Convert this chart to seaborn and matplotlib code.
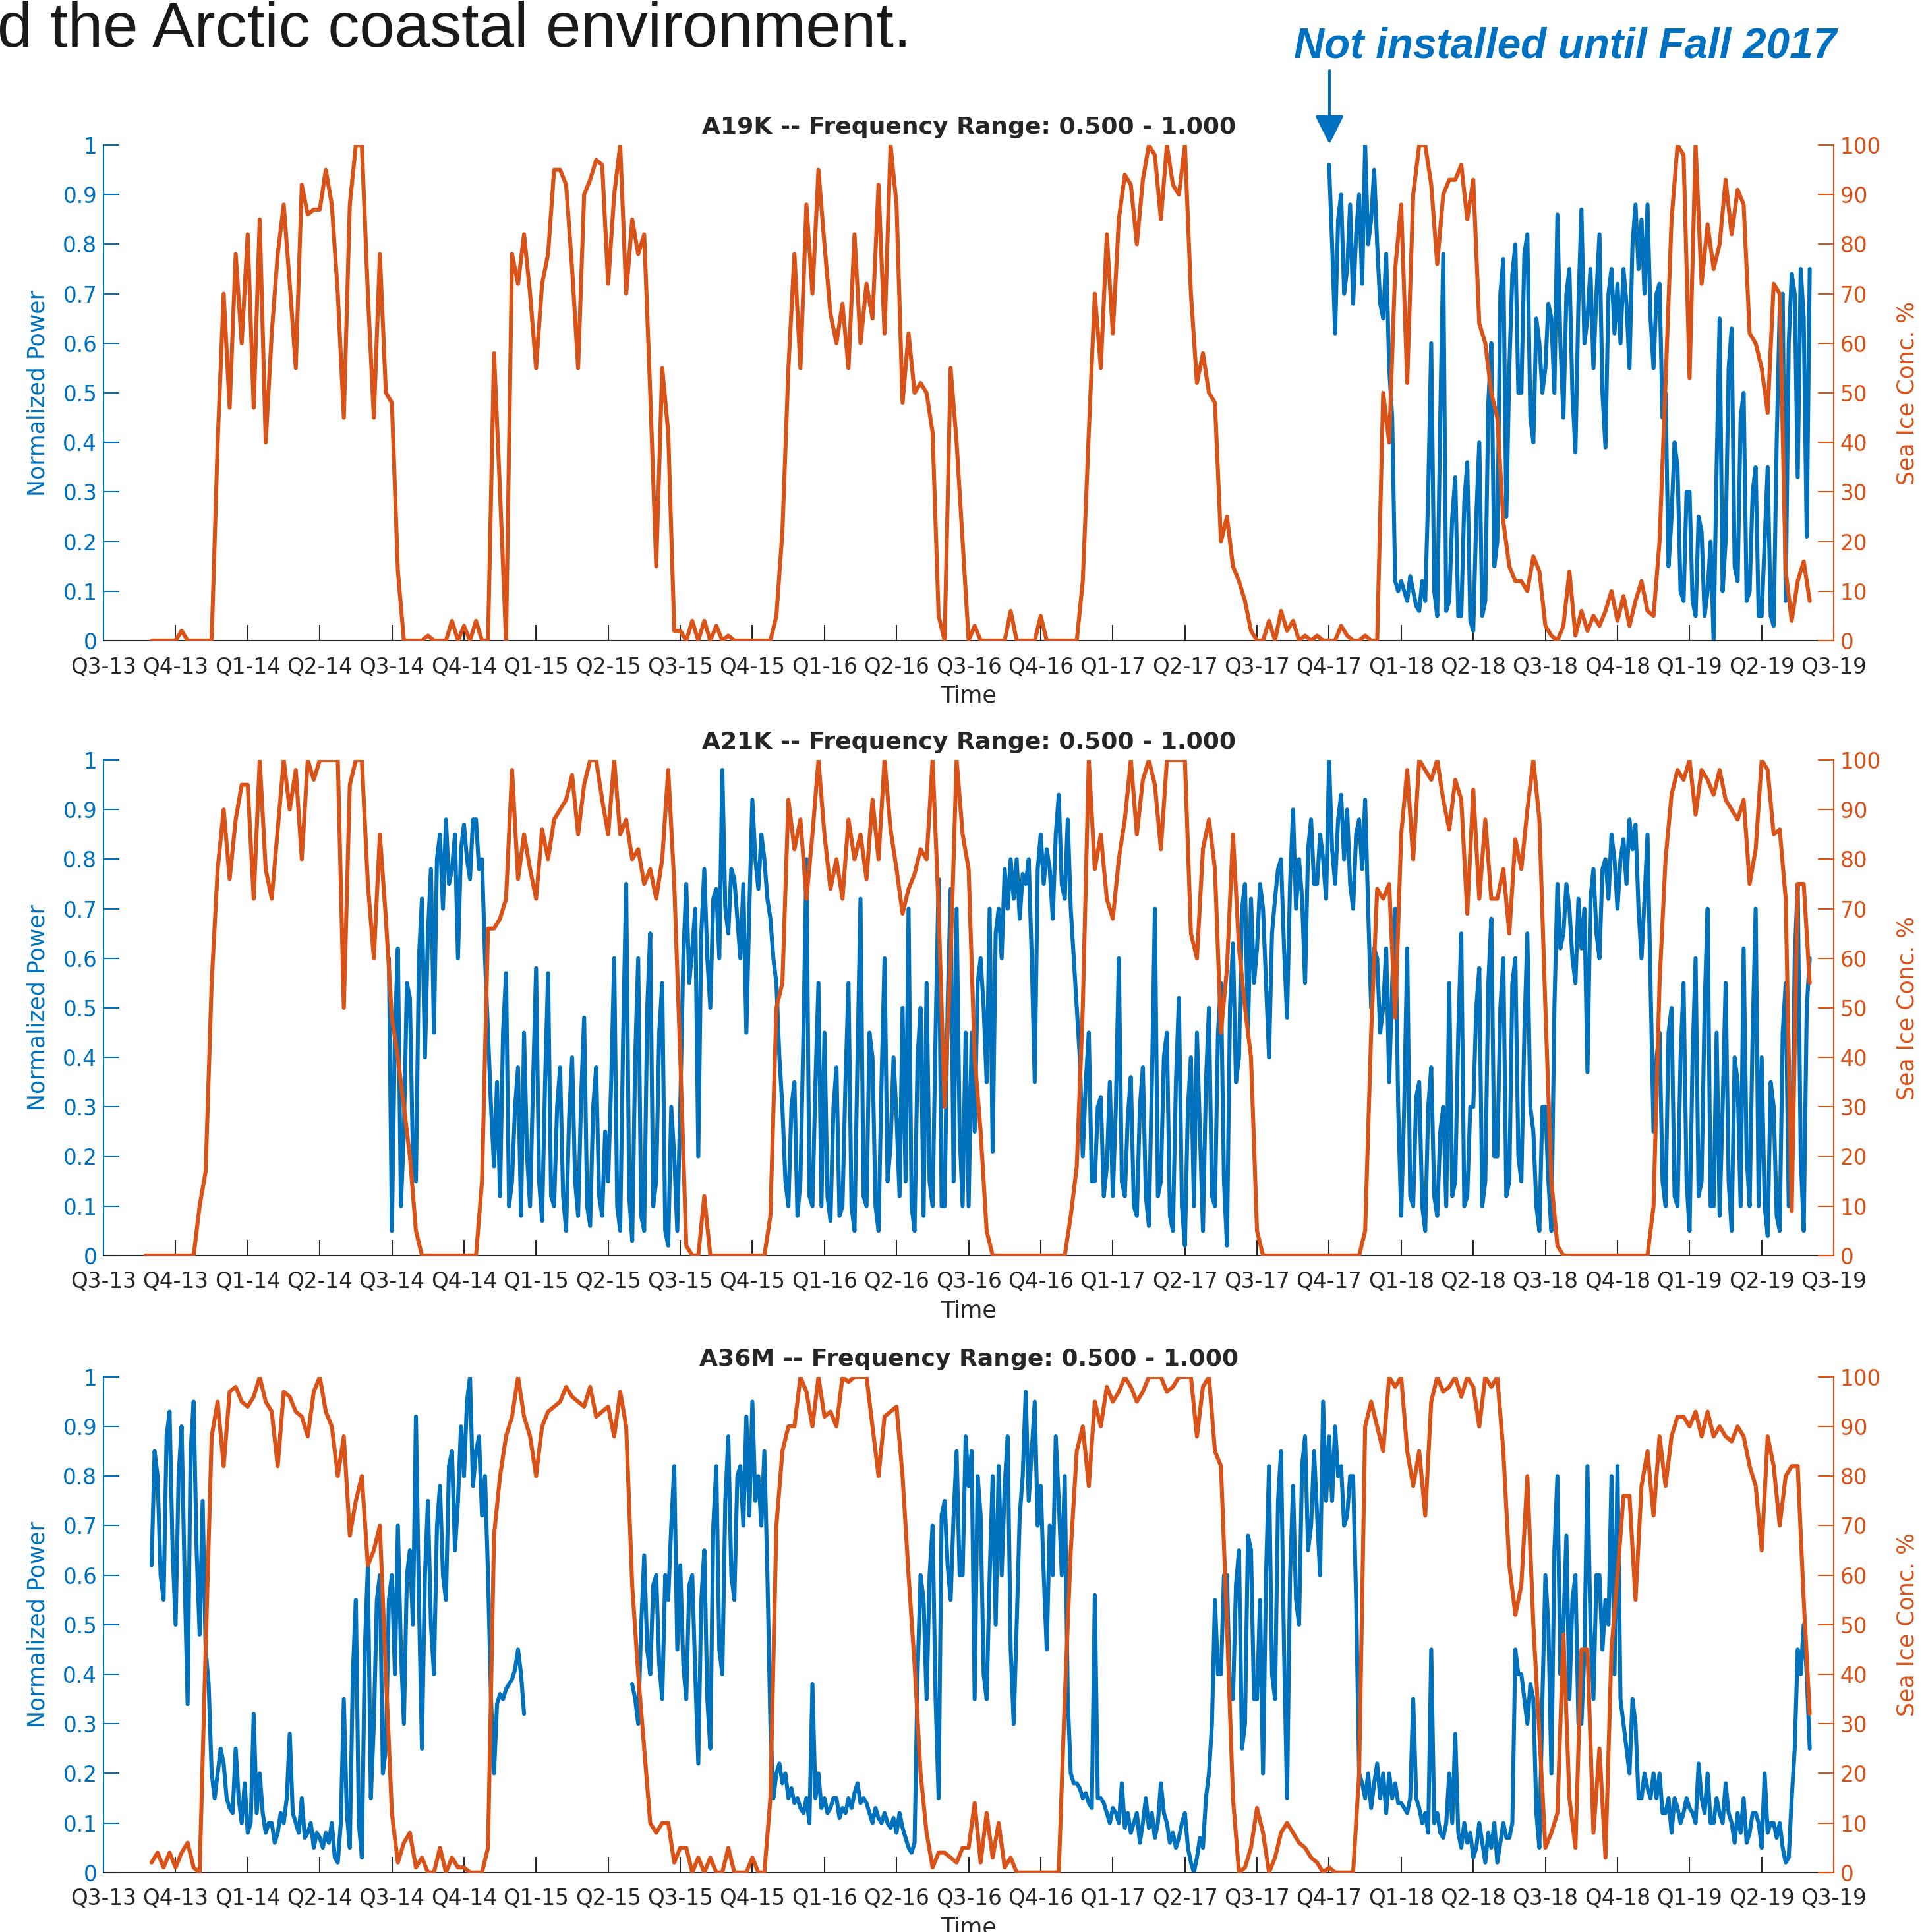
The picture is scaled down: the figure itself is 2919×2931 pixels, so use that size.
import numpy as np
import pandas as pd
import matplotlib
matplotlib.use('Agg')
import matplotlib.pyplot as plt
from matplotlib.patches import FancyArrowPatch
import seaborn as sns

nan = np.nan

quarter_labels = ['Q3-13', 'Q4-13', 'Q1-14', 'Q2-14', 'Q3-14', 'Q4-14', 'Q1-15', 'Q2-15',
                  'Q3-15', 'Q4-15', 'Q1-16', 'Q2-16', 'Q3-16', 'Q4-16', 'Q1-17', 'Q2-17',
                  'Q3-17', 'Q4-17', 'Q1-18', 'Q2-18', 'Q3-18', 'Q4-18', 'Q1-19', 'Q2-19', 'Q3-19']
power_ticks = [0, 0.1, 0.2, 0.3, 0.4, 0.5, 0.6, 0.7, 0.8, 0.9, 1]
ice_ticks = [0, 10, 20, 30, 40, 50, 60, 70, 80, 90, 100]
stations = ['A19K', 'A21K', 'A36M']
freq_range = '0.500 - 1.000'

# sea ice %, 12 samples per quarter, one row per quarter (Q3-13 .. Q2-19)
a19k_ice = [
    nan, nan, nan, nan, nan, nan, nan, nan, 0, 0, 0, 0,
    0, 2, 0, 0, 0, 0, 0, 40, 70, 47, 78, 60,
    82, 47, 85, 40, 62, 78, 88, 72, 55, 92, 86, 87,
    87, 95, 88, 70, 45, 88, 100, 100, 70, 45, 78, 50,
    48, 14, 0, 0, 0, 0, 1, 0, 0, 0, 4, 0,
    3, 0, 4, 0, 0, 58, 30, 0, 78, 72, 82, 70,
    55, 72, 78, 95, 95, 92, 75, 55, 90, 93, 97, 96,
    72, 90, 100, 70, 85, 78, 82, 50, 15, 55, 42, 2,
    2, 0, 4, 0, 4, 0, 3, 0, 1, 0, 0, 0,
    0, 0, 0, 0, 5, 22, 55, 78, 55, 88, 70, 95,
    80, 66, 60, 68, 55, 82, 60, 72, 65, 92, 62, 100,
    88, 48, 62, 50, 52, 50, 42, 5, 0, 55, 40, 20,
    0, 3, 0, 0, 0, 0, 0, 6, 0, 0, 0, 0,
    5, 0, 0, 0, 0, 0, 0, 12, 42, 70, 55, 82,
    62, 85, 94, 92, 80, 93, 100, 98, 85, 100, 92, 90,
    100, 70, 52, 58, 50, 48, 20, 25, 15, 12, 8, 2,
    0, 0, 4, 0, 6, 2, 4, 0, 1, 0, 1, 0,
    0, 0, 3, 1, 0, 0, 1, 0, 0, 50, 40, 75,
    88, 52, 90, 100, 100, 92, 76, 90, 93, 93, 96, 85,
    93, 64, 60, 50, 45, 24, 15, 12, 12, 10, 17, 14,
    3, 1, 0, 3, 14, 1, 6, 2, 5, 3, 6, 10,
    4, 9, 3, 8, 12, 6, 5, 20, 52, 85, 100, 98,
    53, 100, 72, 84, 75, 80, 93, 82, 91, 88, 62, 60,
    55, 46, 72, 70, 14, 4, 12, 16, 8, nan, nan, nan,
]
a21k_ice = [
    nan, nan, nan, nan, nan, nan, nan, 0, 0, 0, 0, 0,
    0, 0, 0, 0, 10, 17, 55, 78, 90, 76, 88, 95,
    95, 72, 100, 78, 72, 86, 100, 90, 98, 80, 100, 96,
    100, 100, 100, 100, 50, 95, 100, 100, 75, 60, 85, 68,
    48, 40, 30, 20, 5, 0, 0, 0, 0, 0, 0, 0,
    0, 0, 0, 15, 66, 66, 68, 72, 98, 76, 85, 78,
    72, 86, 80, 88, 90, 92, 97, 85, 95, 100, 100, 92,
    85, 100, 85, 88, 80, 82, 75, 78, 72, 80, 98, 75,
    40, 2, 0, 0, 12, 0, 0, 0, 0, 0, 0, 0,
    0, 0, 0, 8, 50, 55, 92, 82, 88, 72, 85, 100,
    85, 74, 80, 72, 88, 80, 85, 76, 92, 80, 100, 86,
    78, 69, 74, 77, 82, 80, 100, 70, 30, 60, 100, 85,
    78, 40, 25, 5, 0, 0, 0, 0, 0, 0, 0, 0,
    0, 0, 0, 0, 0, 8, 18, 50, 100, 78, 85, 72,
    68, 80, 88, 100, 85, 96, 100, 95, 82, 100, 100, 100,
    100, 65, 60, 82, 88, 78, 45, 58, 85, 62, 50, 40,
    5, 0, 0, 0, 0, 0, 0, 0, 0, 0, 0, 0,
    0, 0, 0, 0, 0, 0, 5, 45, 74, 72, 75, 48,
    85, 98, 80, 100, 98, 96, 100, 92, 86, 96, 92, 69,
    94, 72, 88, 72, 72, 78, 65, 84, 78, 90, 100, 88,
    50, 15, 2, 0, 0, 0, 0, 0, 0, 0, 0, 0,
    0, 0, 0, 0, 0, 0, 10, 55, 80, 93, 98, 96,
    100, 89, 98, 96, 93, 98, 92, 90, 88, 92, 75, 82,
    100, 98, 85, 86, 72, 9, 75, 75, 55, nan, nan, nan,
]
a36m_ice = [
    nan, nan, nan, nan, nan, nan, nan, nan, 2, 4, 1, 4,
    1, 4, 6, 1, 0, 45, 88, 95, 82, 97, 98, 95,
    94, 96, 100, 95, 93, 82, 97, 96, 93, 92, 88, 97,
    100, 93, 90, 80, 88, 68, 75, 80, 62, 65, 70, 40,
    12, 2, 6, 8, 1, 3, 0, 0, 5, 0, 3, 1,
    1, 0, 0, 0, 5, 68, 80, 88, 92, 100, 92, 88,
    80, 90, 93, 94, 95, 98, 96, 95, 94, 98, 92, 93,
    94, 88, 97, 90, 58, 40, 25, 10, 8, 10, 10, 2,
    5, 5, 0, 3, 0, 3, 0, 0, 5, 0, 0, 0,
    3, 0, 0, 15, 70, 85, 90, 90, 100, 97, 90, 100,
    92, 93, 90, 100, 99, 100, 100, 100, 90, 80, 92, 93,
    94, 80, 60, 42, 20, 8, 1, 4, 4, 3, 2, 5,
    5, 14, 2, 12, 3, 10, 1, 3, 0, 0, 0, 0,
    0, 0, 0, 0, 35, 65, 85, 90, 78, 95, 90, 98,
    95, 97, 100, 98, 95, 97, 100, 100, 100, 97, 98, 100,
    100, 100, 88, 98, 100, 85, 82, 50, 15, 0, 1, 5,
    13, 8, 0, 3, 8, 10, 8, 6, 5, 3, 2, 0,
    1, 0, 0, 0, 0, 20, 90, 95, 90, 85, 100, 98,
    100, 85, 78, 85, 72, 95, 100, 97, 98, 100, 96, 100,
    98, 90, 100, 98, 100, 85, 62, 52, 58, 80, 50, 28,
    5, 8, 12, 48, 15, 5, 45, 45, 8, 25, 3, 45,
    60, 76, 76, 55, 78, 85, 72, 88, 78, 88, 92, 92,
    90, 93, 88, 93, 88, 90, 88, 87, 90, 88, 82, 78,
    65, 88, 82, 70, 80, 82, 82, 55, 32, nan, nan, nan,
]

# normalized power, 24 samples per quarter, one row per quarter
a19k_power = [nan] * 24 * 17 + [
    0.96, 0.80, 0.62, 0.85, 0.90, 0.70, 0.75, 0.88, 0.68, 0.82, 0.90, 0.72, 1.00, 0.80, 0.85, 0.95, 0.80, 0.68, 0.65, 0.78, 0.55, 0.45, 0.12, 0.10,
    0.12, 0.10, 0.08, 0.13, 0.10, 0.07, 0.06, 0.12, 0.08, 0.30, 0.60, 0.10, 0.05, 0.45, 0.78, 0.06, 0.08, 0.25, 0.33, 0.05, 0.05, 0.28, 0.36, 0.04,
    0.02, 0.25, 0.40, 0.05, 0.08, 0.48, 0.60, 0.15, 0.20, 0.70, 0.77, 0.25, 0.55, 0.74, 0.80, 0.50, 0.50, 0.78, 0.82, 0.45, 0.40, 0.65, 0.60, 0.50,
    0.55, 0.68, 0.65, 0.50, 0.86, 0.60, 0.45, 0.70, 0.75, 0.50, 0.38, 0.68, 0.87, 0.60, 0.65, 0.75, 0.55, 0.70, 0.82, 0.50, 0.39, 0.70, 0.75, 0.62,
    0.72, 0.60, 0.75, 0.68, 0.55, 0.80, 0.88, 0.75, 0.85, 0.70, 0.88, 0.65, 0.55, 0.70, 0.72, 0.45, 0.50, 0.15, 0.25, 0.40, 0.35, 0.10, 0.08, 0.30,
    0.30, 0.08, 0.05, 0.25, 0.22, 0.05, 0.10, 0.20, 0.00, 0.35, 0.65, 0.10, 0.20, 0.55, 0.63, 0.15, 0.12, 0.45, 0.50, 0.08, 0.10, 0.30, 0.35, 0.05,
    0.05, 0.20, 0.35, 0.05, 0.03, 0.40, 0.67, 0.70, 0.08, 0.60, 0.74, 0.70, 0.33, 0.75, 0.65, 0.21, 0.75, nan, nan, nan, nan, nan, nan, nan,
]
a21k_power = [nan] * (24 * 3 + 23) + [
    0.60,
    0.05, 0.45, 0.62, 0.10, 0.25, 0.55, 0.52, 0.20, 0.15, 0.60, 0.72, 0.40, 0.65, 0.78, 0.45, 0.80, 0.85, 0.70, 0.88, 0.75, 0.78, 0.85, 0.60, 0.82,
    0.87, 0.80, 0.76, 0.88, 0.88, 0.78, 0.80, 0.60, 0.45, 0.30, 0.18, 0.35, 0.12, 0.45, 0.57, 0.10, 0.15, 0.30, 0.38, 0.08, 0.45, 0.20, 0.10, 0.35,
    0.58, 0.15, 0.07, 0.35, 0.57, 0.12, 0.10, 0.30, 0.38, 0.12, 0.05, 0.28, 0.40, 0.15, 0.08, 0.32, 0.48, 0.10, 0.06, 0.30, 0.38, 0.12, 0.08, 0.25,
    0.15, 0.35, 0.60, 0.10, 0.05, 0.45, 0.75, 0.12, 0.03, 0.40, 0.60, 0.08, 0.05, 0.50, 0.65, 0.10, 0.15, 0.45, 0.55, 0.05, 0.02, 0.30, 0.20, 0.05,
    0.30, 0.60, 0.75, 0.55, 0.62, 0.70, 0.20, 0.65, 0.78, 0.60, 0.50, 0.72, 0.74, 0.60, 0.98, 0.70, 0.65, 0.78, 0.76, 0.68, 0.60, 0.75, 0.45, 0.70,
    0.92, 0.80, 0.74, 0.85, 0.80, 0.72, 0.68, 0.60, 0.55, 0.40, 0.30, 0.15, 0.10, 0.30, 0.35, 0.08, 0.15, 0.45, 0.80, 0.12, 0.10, 0.35, 0.55, 0.10,
    0.45, 0.12, 0.07, 0.30, 0.38, 0.08, 0.10, 0.35, 0.55, 0.10, 0.05, 0.40, 0.72, 0.12, 0.10, 0.45, 0.40, 0.10, 0.05, 0.35, 0.60, 0.15, 0.22, 0.40,
    0.28, 0.12, 0.50, 0.15, 0.70, 0.10, 0.05, 0.40, 0.50, 0.08, 0.55, 0.15, 0.10, 0.45, 0.76, 0.10, 0.10, 0.50, 0.74, 0.15, 0.70, 0.25, 0.10, 0.45,
    0.10, 0.45, 0.25, 0.55, 0.60, 0.50, 0.35, 0.70, 0.21, 0.65, 0.70, 0.60, 0.78, 0.70, 0.80, 0.72, 0.80, 0.68, 0.77, 0.75, 0.80, 0.60, 0.35, 0.78,
    0.85, 0.75, 0.82, 0.78, 0.68, 0.85, 0.93, 0.75, 0.72, 0.88, 0.70, 0.60, 0.50, 0.40, 0.20, 0.35, 0.45, 0.15, 0.15, 0.30, 0.32, 0.12, 0.18, 0.35,
    0.12, 0.30, 0.60, 0.15, 0.12, 0.28, 0.36, 0.10, 0.08, 0.30, 0.38, 0.12, 0.06, 0.35, 0.70, 0.12, 0.15, 0.40, 0.45, 0.08, 0.05, 0.35, 0.52, 0.10,
    0.02, 0.30, 0.40, 0.10, 0.45, 0.25, 0.05, 0.35, 0.50, 0.12, 0.10, 0.45, 0.55, 0.15, 0.02, 0.50, 0.63, 0.35, 0.40, 0.70, 0.75, 0.45, 0.72, 0.55,
    0.62, 0.75, 0.70, 0.55, 0.40, 0.65, 0.72, 0.78, 0.80, 0.62, 0.48, 0.75, 0.90, 0.70, 0.80, 0.72, 0.55, 0.82, 0.88, 0.75, 0.75, 0.85, 0.80, 0.72,
    1.00, 0.82, 0.75, 0.88, 0.93, 0.80, 0.90, 0.75, 0.70, 0.85, 0.88, 0.78, 0.92, 0.70, 0.50, 0.62, 0.60, 0.45, 0.50, 0.62, 0.35, 0.55, 0.70, 0.30,
    0.08, 0.30, 0.62, 0.12, 0.10, 0.32, 0.35, 0.10, 0.05, 0.30, 0.38, 0.12, 0.08, 0.25, 0.30, 0.10, 0.55, 0.12, 0.15, 0.45, 0.65, 0.10, 0.12, 0.30,
    0.30, 0.50, 0.58, 0.10, 0.15, 0.55, 0.68, 0.20, 0.20, 0.50, 0.60, 0.12, 0.15, 0.55, 0.60, 0.20, 0.15, 0.45, 0.65, 0.30, 0.25, 0.10, 0.05, 0.30,
    0.30, 0.15, 0.05, 0.50, 0.75, 0.62, 0.65, 0.75, 0.70, 0.60, 0.55, 0.72, 0.62, 0.70, 0.37, 0.72, 0.78, 0.65, 0.60, 0.78, 0.80, 0.72, 0.85, 0.80,
    0.70, 0.80, 0.84, 0.75, 0.88, 0.82, 0.87, 0.70, 0.60, 0.72, 0.85, 0.55, 0.25, 0.40, 0.45, 0.15, 0.10, 0.45, 0.50, 0.12, 0.10, 0.40, 0.55, 0.15,
    0.05, 0.40, 0.60, 0.12, 0.15, 0.50, 0.70, 0.10, 0.10, 0.45, 0.08, 0.30, 0.55, 0.15, 0.05, 0.40, 0.35, 0.10, 0.62, 0.20, 0.10, 0.45, 0.70, 0.10,
    0.40, 0.10, 0.04, 0.35, 0.30, 0.08, 0.05, 0.45, 0.55, 0.10, 0.15, 0.60, 0.75, 0.20, 0.05, 0.50, 0.60, nan, nan, nan, nan, nan, nan, nan,
]
a36m_power = [
    nan, nan, nan, nan, nan, nan, nan, nan, nan, nan, nan, nan, nan, nan, nan, nan, 0.62, 0.85, 0.80, 0.60, 0.55, 0.88, 0.93, 0.65,
    0.50, 0.80, 0.90, 0.60, 0.34, 0.85, 0.95, 0.65, 0.48, 0.75, 0.45, 0.38, 0.20, 0.15, 0.20, 0.25, 0.22, 0.15, 0.13, 0.12, 0.25, 0.15, 0.10, 0.18,
    0.08, 0.10, 0.32, 0.12, 0.20, 0.12, 0.08, 0.10, 0.10, 0.06, 0.08, 0.12, 0.10, 0.15, 0.28, 0.12, 0.10, 0.08, 0.15, 0.07, 0.08, 0.10, 0.05, 0.08,
    0.07, 0.05, 0.08, 0.06, 0.10, 0.03, 0.02, 0.10, 0.35, 0.12, 0.05, 0.40, 0.55, 0.10, 0.03, 0.45, 0.62, 0.15, 0.30, 0.55, 0.60, 0.20, 0.25, 0.55,
    0.60, 0.40, 0.70, 0.45, 0.30, 0.60, 0.65, 0.50, 0.92, 0.55, 0.25, 0.60, 0.75, 0.50, 0.40, 0.70, 0.78, 0.60, 0.55, 0.82, 0.85, 0.65, 0.75, 0.90,
    0.80, 0.95, 1.00, 0.78, 0.85, 0.88, 0.72, 0.80, 0.60, 0.35, 0.20, 0.34, 0.36, 0.35, 0.37, 0.38, 0.39, 0.41, 0.45, 0.40, 0.32, nan, nan, nan,
    nan, nan, nan, nan, nan, nan, nan, nan, nan, nan, nan, nan, nan, nan, nan, nan, nan, nan, nan, nan, nan, nan, nan, nan,
    nan, nan, nan, nan, nan, nan, nan, nan, 0.38, 0.35, 0.30, 0.50, 0.64, 0.45, 0.40, 0.58, 0.60, 0.42, 0.35, 0.60, 0.55, 0.70, 0.82, 0.45,
    0.62, 0.42, 0.35, 0.58, 0.60, 0.40, 0.22, 0.55, 0.65, 0.35, 0.25, 0.70, 0.82, 0.45, 0.40, 0.75, 0.88, 0.60, 0.55, 0.80, 0.82, 0.70, 0.92, 0.72,
    0.95, 0.75, 0.80, 0.70, 0.85, 0.60, 0.30, 0.15, 0.20, 0.22, 0.18, 0.20, 0.15, 0.17, 0.14, 0.15, 0.13, 0.12, 0.15, 0.10, 0.38, 0.15, 0.20, 0.13,
    0.15, 0.12, 0.13, 0.15, 0.15, 0.11, 0.13, 0.12, 0.15, 0.13, 0.16, 0.18, 0.14, 0.15, 0.14, 0.12, 0.10, 0.13, 0.11, 0.10, 0.12, 0.10, 0.09, 0.11,
    0.08, 0.12, 0.09, 0.07, 0.05, 0.04, 0.06, 0.40, 0.60, 0.55, 0.35, 0.60, 0.70, 0.35, 0.15, 0.72, 0.75, 0.62, 0.55, 0.72, 0.85, 0.60, 0.60, 0.88,
    0.78, 0.85, 0.35, 0.80, 0.72, 0.40, 0.35, 0.60, 0.80, 0.50, 0.82, 0.60, 0.78, 0.88, 0.45, 0.30, 0.50, 0.72, 0.80, 0.97, 0.75, 0.85, 0.95, 0.70,
    0.78, 0.60, 0.45, 0.70, 0.60, 0.88, 0.75, 0.60, 0.80, 0.35, 0.20, 0.18, 0.18, 0.17, 0.15, 0.16, 0.14, 0.13, 0.56, 0.15, 0.15, 0.14, 0.12, 0.10,
    0.13, 0.12, 0.10, 0.18, 0.09, 0.12, 0.08, 0.10, 0.12, 0.06, 0.10, 0.15, 0.09, 0.12, 0.07, 0.10, 0.18, 0.12, 0.10, 0.06, 0.08, 0.05, 0.07, 0.10,
    0.12, 0.05, 0.02, 0.00, 0.03, 0.07, 0.05, 0.15, 0.20, 0.30, 0.55, 0.40, 0.40, 0.60, 0.60, 0.35, 0.35, 0.58, 0.65, 0.25, 0.30, 0.68, 0.65, 0.35,
    0.35, 0.55, 0.20, 0.60, 0.82, 0.40, 0.35, 0.75, 0.85, 0.45, 0.15, 0.60, 0.78, 0.55, 0.50, 0.82, 0.88, 0.65, 0.70, 0.85, 0.72, 0.60, 0.95, 0.75,
    0.88, 0.75, 0.90, 0.80, 0.82, 0.70, 0.72, 0.80, 0.80, 0.55, 0.20, 0.18, 0.15, 0.20, 0.13, 0.18, 0.22, 0.15, 0.20, 0.12, 0.20, 0.15, 0.18, 0.14,
    0.14, 0.13, 0.12, 0.15, 0.35, 0.15, 0.13, 0.10, 0.12, 0.08, 0.45, 0.10, 0.12, 0.08, 0.07, 0.10, 0.20, 0.10, 0.28, 0.08, 0.05, 0.10, 0.06, 0.08,
    0.03, 0.05, 0.10, 0.06, 0.02, 0.08, 0.05, 0.10, 0.02, 0.06, 0.10, 0.07, 0.07, 0.10, 0.45, 0.40, 0.40, 0.35, 0.30, 0.38, 0.35, 0.12, 0.05, 0.35,
    0.60, 0.50, 0.20, 0.65, 0.80, 0.40, 0.50, 0.68, 0.35, 0.55, 0.60, 0.30, 0.30, 0.45, 0.82, 0.50, 0.35, 0.60, 0.60, 0.45, 0.55, 0.50, 0.80, 0.40,
    0.82, 0.35, 0.30, 0.25, 0.20, 0.35, 0.30, 0.15, 0.15, 0.20, 0.17, 0.15, 0.20, 0.15, 0.20, 0.12, 0.12, 0.15, 0.08, 0.15, 0.13, 0.10, 0.12, 0.15,
    0.13, 0.12, 0.10, 0.22, 0.15, 0.12, 0.20, 0.10, 0.10, 0.15, 0.12, 0.10, 0.18, 0.12, 0.10, 0.06, 0.12, 0.08, 0.15, 0.06, 0.08, 0.12, 0.12, 0.10,
    0.05, 0.20, 0.08, 0.10, 0.10, 0.07, 0.10, 0.05, 0.02, 0.03, 0.15, 0.25, 0.45, 0.40, 0.50, 0.40, 0.25, nan, nan, nan, nan, nan, nan, nan,
]

BLUE = '#0072BD'
ORANGE = '#D95319'
DARK = '#262626'

sns.set_style('white')
plt.rcParams['font.family'] = ['DejaVu Sans']

fig = plt.figure(figsize=(29.19, 29.31), dpi=100)

panels = [(a19k_power, a19k_ice), (a21k_power, a21k_ice), (a36m_power, a36m_ice)]
bottoms = [0.6684, 0.3501, 0.0308]

for name, (power, ice), b in zip(stations, panels, bottoms):
    ax = fig.add_axes([0.0538, b, 0.8993, 0.2565])
    ax2 = ax.twinx()

    pw = pd.DataFrame({'quarter': np.arange(len(power)) / 24, 'power': power})
    ic = pd.DataFrame({'quarter': np.arange(len(ice)) / 12, 'ice': ice})
    # separate runs so gaps in the record stay gaps
    pw['seg'] = pw['power'].isna().cumsum()
    ic['seg'] = ic['ice'].isna().cumsum()

    sns.lineplot(data=pw, x='quarter', y='power', units='seg', estimator=None,
                 color=BLUE, lw=4.4, ax=ax)
    sns.lineplot(data=ic, x='quarter', y='ice', units='seg', estimator=None,
                 color=ORANGE, lw=4.4, ax=ax2)

    ax.set_xlim(0, 24)
    ax.set_ylim(0, 1)
    ax2.set_ylim(0, 100)
    ax.set_xticks(range(25))
    ax.set_xticklabels(quarter_labels)
    ax.set_yticks(power_ticks)
    ax.set_yticklabels([f'{t:g}' for t in power_ticks])
    ax2.set_yticks(ice_ticks)
    ax2.set_yticklabels([str(t) for t in ice_ticks])

    ax.tick_params(axis='x', bottom=True, direction='in', length=17, width=1.5,
                   color=DARK, labelcolor=DARK, labelsize=23.5, pad=17)
    ax.tick_params(axis='y', left=True, direction='in', length=17, width=1.5,
                   color=BLUE, labelcolor=BLUE, labelsize=23.5, pad=7)
    ax2.tick_params(axis='y', right=True, labelright=True, direction='in', length=17,
                    width=1.5, color=ORANGE, labelcolor=ORANGE, labelsize=23.5, pad=7)

    for a in (ax, ax2):
        a.spines['top'].set_visible(False)
    ax.spines['right'].set_visible(False)
    ax.spines['left'].set_color(BLUE)
    ax.spines['bottom'].set_color(DARK)
    ax2.spines['left'].set_visible(False)
    ax2.spines['bottom'].set_visible(False)
    ax2.spines['right'].set_color(ORANGE)
    for s in ('left', 'bottom'):
        ax.spines[s].set_linewidth(1.5)
    ax2.spines['right'].set_linewidth(1.5)

    ax.set_title(f'{name} -- Frequency Range: {freq_range}', fontsize=26,
                 fontweight='bold', pad=12)
    ax.set_xlabel('Time', fontsize=25, color=DARK)
    ax.xaxis.set_label_coords(0.5, -0.089)
    ax.set_ylabel('Normalized Power', fontsize=25, color=BLUE)
    ax.yaxis.set_label_coords(-0.0316, 0.5)
    ax2.set_ylabel('Sea Ice Conc. %', fontsize=25, color=ORANGE)
    ax2.yaxis.set_label_coords(1.0358, 0.5)

fig.text(-0.0014, 1 - 71 / 2931, 'd the Arctic coastal environment.', fontsize=69,
         family=['Liberation Sans', 'DejaVu Sans'], color='#1a1a1a',
         ha='left', va='baseline')
fig.text(2375 / 2919, 1 - 88 / 2931, 'Not installed until Fall 2017', fontsize=46,
         fontweight='bold', fontstyle='italic', family=['Liberation Sans', 'DejaVu Sans'],
         color='#0070C0', ha='center', va='baseline')
arrow = FancyArrowPatch((2017 / 2919, 1 - 107 / 2931), (2017 / 2919, 1 - 219 / 2931),
                        transform=fig.transFigure, arrowstyle='-|>,head_length=0.9,head_width=0.45',
                        mutation_scale=30, lw=3, color='#0070C0', shrinkA=0, shrinkB=0)
fig.add_artist(arrow)

fig.savefig('out.png', dpi=100)
